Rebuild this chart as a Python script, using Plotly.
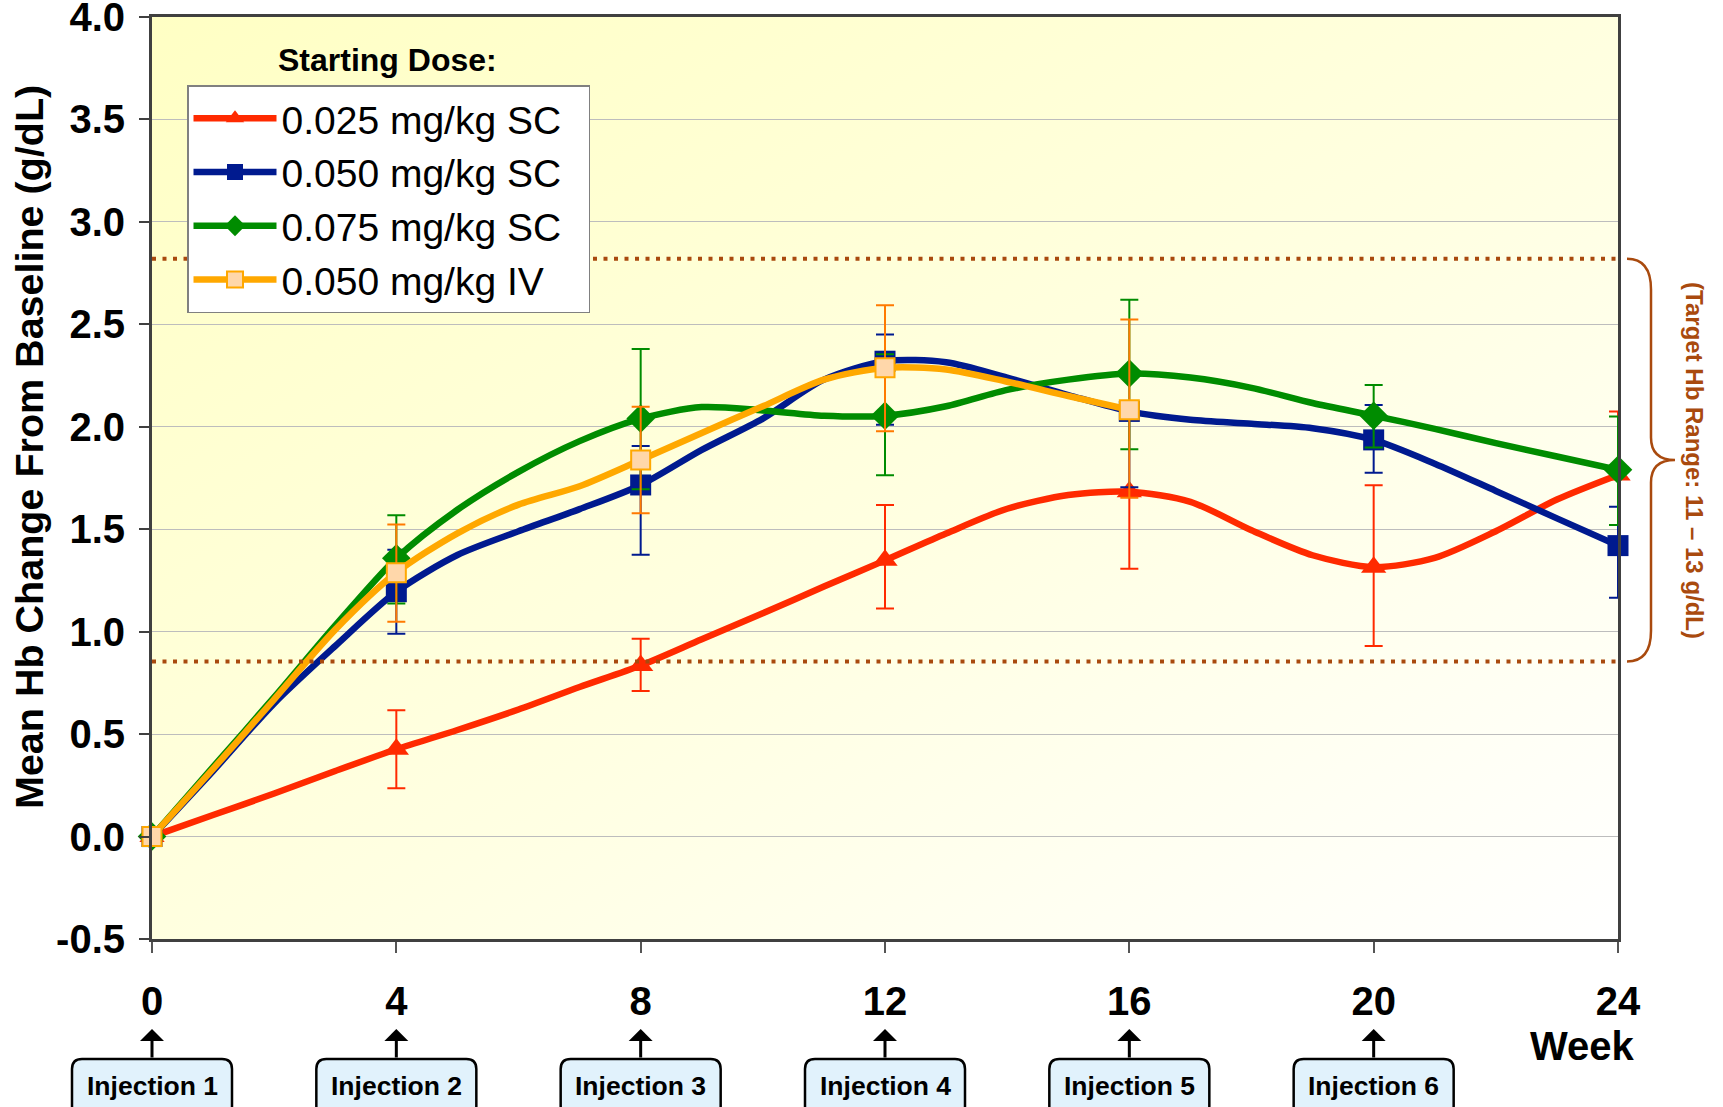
import base64
import plotly.graph_objects as go

# ---------------- data ----------------
weeks = list(range(25))                       # weekly vertices of the smoothed lines
marker_weeks = [0, 4, 8, 12, 16, 20, 24]      # visits with markers / error bars
x_tick_vals = [0, 4, 8, 12, 16, 20, 24]
x_tick_text = ["0", "4", "8", "12", "16", "20", "24"]
y_tick_vals = [-0.5, 0.0, 0.5, 1.0, 1.5, 2.0, 2.5, 3.0, 3.5, 4.0]
y_tick_text = ["-0.5", "0.0", "0.5", "1.0", "1.5", "2.0", "2.5", "3.0", "3.5", "4.0"]
injection_weeks = [0, 4, 8, 12, 16, 20]
injection_labels = ["Injection 1", "Injection 2", "Injection 3",
                    "Injection 4", "Injection 5", "Injection 6"]
target_range = [0.855, 2.82]
target_label = "(Target Hb Range: 11 \u2013 13 g/dL)"

series_names = ["0.025 mg/kg SC", "0.050 mg/kg SC", "0.075 mg/kg SC", "0.050 mg/kg IV"]

sc_025 = [0.00, 0.105, 0.21, 0.32, 0.426, 0.52, 0.62, 0.73, 0.835, 0.963, 1.09, 1.22,
          1.348, 1.479, 1.60, 1.667, 1.683, 1.634, 1.495, 1.373, 1.315, 1.36, 1.49,
          1.645, 1.765]
sc_025_err_plus = [0.0, 0.19, 0.13, 0.27, 0.0, 0.40, 0.31]
sc_025_err_minus = [0.0, 0.19, 0.125, 0.235, 0.376, 0.385, 0.0]

sc_050 = [0.00, 0.32, 0.65, 0.93, 1.195, 1.374, 1.49, 1.598, 1.716, 1.887, 2.04, 2.23,
          2.32, 2.315, 2.24, 2.155, 2.075, 2.034, 2.015, 1.993, 1.936, 1.82, 1.687,
          1.553, 1.42]
sc_050_err_plus = [0.0, 0.205, 0.19, 0.13, 0.0, 0.17, 0.19]
sc_050_err_minus = [0.0, 0.205, 0.34, 0.31, 0.37, 0.16, 0.255]

sc_075 = [0.00, 0.34, 0.68, 1.03, 1.358, 1.595, 1.78, 1.93, 2.04, 2.096, 2.08, 2.054,
          2.054, 2.10, 2.18, 2.23, 2.26, 2.24, 2.19, 2.116, 2.054, 1.99, 1.92, 1.855,
          1.79]
sc_075_err_plus = [0.0, 0.21, 0.34, 0.30, 0.36, 0.15, 0.26]
sc_075_err_minus = [0.0, 0.22, 0.345, 0.29, 0.37, 0.155, 0.27]

iv_050 = [0.00, 0.33, 0.67, 1.01, 1.288, 1.48, 1.62, 1.71, 1.838, 1.97, 2.10, 2.23,
          2.288, 2.28, 2.22, 2.15, 2.083]
iv_050_err_plus = [0.0, 0.235, 0.26, 0.305, 0.44]
iv_050_err_minus = [0.0, 0.24, 0.26, 0.31, 0.43]

# ---------------- styles ----------------
series = [
    dict(name=series_names[0], y=sc_025, ep=sc_025_err_plus, em=sc_025_err_minus,
         color="#FF2A00", ecolor="#FF2A00", symbol="triangle-up", size=22,
         fill="#FF2A00", mline=0),
    dict(name=series_names[1], y=sc_050, ep=sc_050_err_plus, em=sc_050_err_minus,
         color="#001A8F", ecolor="#001A8F", symbol="square", size=21,
         fill="#001A8F", mline=0),
    dict(name=series_names[2], y=sc_075, ep=sc_075_err_plus, em=sc_075_err_minus,
         color="#008C00", ecolor="#008C00", symbol="diamond", size=22,
         fill="#008C00", mline=0),
    dict(name=series_names[3], y=iv_050, ep=iv_050_err_plus, em=iv_050_err_minus,
         color="#FFA800", ecolor="#FF7A00", symbol="square", size=19,
         fill="#FFD7AA", mline=2),
]

FONT = "Arial, 'Liberation Sans', sans-serif"
BROWN = "#A94A0E"

fig = go.Figure()

for s in series:
    n = len(s["y"])
    wk = weeks[:n]
    fig.add_trace(go.Scatter(
        x=wk, y=s["y"], mode="lines", showlegend=False, hoverinfo="skip",
        line=dict(color=s["color"], width=6.5, shape="spline", smoothing=0.8),
        cliponaxis=False))
    mw = [w for w in marker_weeks if w < n]
    fig.add_trace(go.Scatter(
        x=mw, y=[s["y"][w] for w in mw], mode="markers", showlegend=False,
        marker=dict(symbol=s["symbol"], size=s["size"], color=s["fill"],
                    line=dict(color=s["color"], width=s["mline"])),
        error_y=dict(type="data", symmetric=False, array=s["ep"][:len(mw)],
                     arrayminus=s["em"][:len(mw)], color=s["ecolor"],
                     thickness=2, width=9),
        cliponaxis=False))

# legend-only entries (line + marker symbol)
for s in series:
    fig.add_trace(go.Scatter(
        x=[None], y=[None], mode="lines+markers", name=s["name"] + "\u00a0\u00a0",
        line=dict(color=s["color"], width=6.5),
        marker=dict(symbol=s["symbol"], size=s["size"], color=s["fill"],
                    line=dict(color=s["color"], width=s["mline"]))))

# ---------------- background gradient ----------------
svg = ('<svg xmlns="http://www.w3.org/2000/svg" width="200" height="200" '
       'preserveAspectRatio="none"><defs><linearGradient id="g" x1="0" y1="0" '
       'x2="1" y2="1"><stop offset="0" stop-color="#FFFFC4"/>'
       '<stop offset="0.55" stop-color="#FFFFE2"/>'
       '<stop offset="1" stop-color="#FFFFFF"/></linearGradient></defs>'
       '<rect width="200" height="200" fill="url(#g)"/></svg>')
svg_uri = "data:image/svg+xml;base64," + base64.b64encode(svg.encode()).decode()

# page geometry
FIG_W, FIG_H = 1723, 1107
PLOT_W, PLOT_H = 1466.0, 922.0
PL, PT = 152.0, 17.0           # plot-area left / top on the page
PB = PT + PLOT_H               # plot-area bottom on the page


def px_x(x):
    return (x - PL) / PLOT_W


def px_y(y):
    return (PB - y) / PLOT_H


shapes = []
annotations = []

# target range dotted lines
for v in target_range:
    shapes.append(dict(type="line", xref="paper", x0=0, x1=1, yref="y", y0=v, y1=v,
                       line=dict(color=BROWN, width=4, dash="4px,6.5px"), layer="above"))

# curly brace to the right of the plot
lo, hi = target_range
mid = (lo + hi) / 2
brace = (f"M 9,{hi} Q 33,{hi} 33,{hi - 0.15} L 33,{mid + 0.11} "
         f"Q 33,{mid} 57,{mid} Q 33,{mid} 33,{mid - 0.11} "
         f"L 33,{lo + 0.15} Q 33,{lo} 9,{lo}")
shapes.append(dict(type="path", xref="paper", xsizemode="pixel", xanchor=1, yref="y",
                   path=brace, line=dict(color=BROWN, width=2.5)))
annotations.append(dict(xref="paper", x=px_x(1695), yref="y", y=mid, text=target_label,
                        textangle=90, showarrow=False, xanchor="center", yanchor="middle",
                        font=dict(family=FONT, size=24, color=BROWN, weight="bold")))

# injection boxes with arrows
yt = px_y(1059)
yb = px_y(1116)
ry = 10 / PLOT_H
hw, r = 80, 10
box_path = (f"M {-hw + r},{yt} L {hw - r},{yt} Q {hw},{yt} {hw},{yt - ry} "
            f"L {hw},{yb + ry} Q {hw},{yb} {hw - r},{yb} L {-hw + r},{yb} "
            f"Q {-hw},{yb} {-hw},{yb + ry} L {-hw},{yt - ry} Q {-hw},{yt} {-hw + r},{yt} Z")
for w, lab in zip(injection_weeks, injection_labels):
    shapes.append(dict(type="path", xref="paper", xsizemode="pixel", xanchor=w / 24,
                       yref="paper", path=box_path, fillcolor="#E1F2FC",
                       line=dict(color="black", width=2.5)))
    annotations.append(dict(xref="x", x=w, yref="paper", y=px_y(1086),
                            text=lab, showarrow=False, xanchor="center", yanchor="middle",
                            font=dict(family=FONT, size=26.5, color="black", weight="bold")))
    annotations.append(dict(xref="x", x=w, yref="paper", y=px_y(1029),
                            ax=0, ay=30, text="", showarrow=True, arrowhead=1,
                            arrowsize=1.33, arrowwidth=3, arrowcolor="black"))

annotations.append(dict(xref="paper", x=px_x(1582), yref="paper", y=px_y(1046),
                        text="Week", showarrow=False, xanchor="center", yanchor="middle",
                        font=dict(family=FONT, size=40, color="black", weight="bold")))
annotations.append(dict(xref="paper", x=px_x(387), yref="paper", y=px_y(60),
                        text="Starting Dose:", showarrow=False, xanchor="center",
                        yanchor="middle",
                        font=dict(family=FONT, size=32, color="black", weight="bold")))
annotations.append(dict(xref="paper", x=px_x(29), yref="paper", y=px_y(447),
                        text="Mean Hb Change From Baseline (g/dL)", textangle=-90,
                        showarrow=False, xanchor="center", yanchor="middle",
                        font=dict(family=FONT, size=39.5, color="black", weight="bold")))

fig.update_layout(
    width=FIG_W, height=FIG_H,
    margin=dict(l=PL, r=FIG_W - PL - PLOT_W, t=PT, b=FIG_H - PB, autoexpand=False),
    paper_bgcolor="white", plot_bgcolor="rgba(0,0,0,0)",
    font=dict(family=FONT, color="black"),
    images=[dict(source=svg_uri, xref="paper", yref="paper", x=0, y=1, sizex=1,
                 sizey=1, sizing="stretch", layer="below", xanchor="left",
                 yanchor="top")],
    shapes=shapes, annotations=annotations,
    legend=dict(x=px_x(187), y=px_y(85), xanchor="left", yanchor="top",
                bgcolor="white", bordercolor="#808080", borderwidth=1.5,
                font=dict(family=FONT, size=39, color="black"),
                tracegroupgap=0, itemwidth=83),
    showlegend=True,
)

fig.update_xaxes(range=[0, 24], tickvals=x_tick_vals, ticktext=x_tick_text,
                 automargin=False,
                 showgrid=False, zeroline=False, showline=True, mirror=True,
                 linecolor="#404040", linewidth=3, ticks="outside", ticklen=11,
                 tickcolor="#555555", tickwidth=1.5, ticklabelstandoff=14,
                 ticklabeloverflow="allow",
                 tickfont=dict(family=FONT, size=40, color="black", weight="bold"))
fig.update_yaxes(range=[-0.5, 4.0], tickvals=y_tick_vals, ticktext=y_tick_text,
                 automargin=False,
                 showgrid=True, gridcolor="#BDBDBD", gridwidth=1, zeroline=False,
                 showline=True, mirror=True, linecolor="#404040", linewidth=3,
                 ticks="outside", ticklen=10, tickcolor="#404040", tickwidth=1.5,
                 ticklabelstandoff=6, ticklabeloverflow="allow",
                 tickfont=dict(family=FONT, size=40, color="black", weight="bold"))

fig.write_html("out.html",
               config={"displayModeBar": False},
               post_script="document.body.style.margin='0';"
                           "document.body.style.overflow='hidden';")
